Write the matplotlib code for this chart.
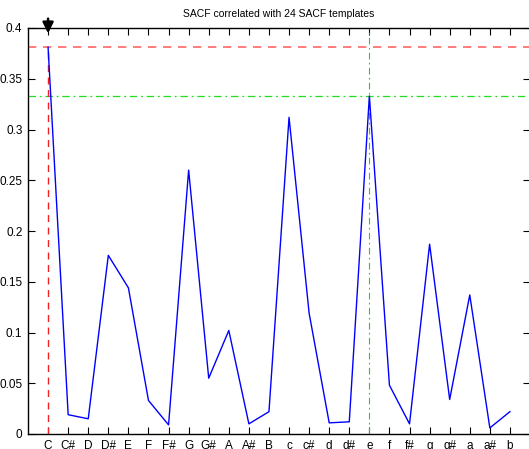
import matplotlib
matplotlib.use("Agg")
import matplotlib.pyplot as plt

plt.rcParams['font.family'] = ['Liberation Sans', 'DejaVu Sans']

keys = ['C', 'C#', 'D', 'D#', 'E', 'F', 'F#', 'G', 'G#', 'A', 'A#', 'B',
        'c', 'c#', 'd', 'd#', 'e', 'f', 'f#', 'g', 'g#', 'a', 'a#', 'b']
values = [0.381, 0.019, 0.015, 0.176, 0.144, 0.033, 0.009, 0.260, 0.055, 0.102, 0.010, 0.022,
          0.312, 0.119, 0.011, 0.012, 0.333, 0.048, 0.010, 0.187, 0.034, 0.137, 0.006, 0.022]
yticks = [0, 0.05, 0.1, 0.15, 0.2, 0.25, 0.3, 0.35, 0.4]
ytick_labels = ['0', '0.05', '0.1', '0.15', '0.2', '0.25', '0.3', '0.35', '0.4']
title = 'SACF correlated with 24 SACF templates'

W, H = 529, 449
fig = plt.figure(figsize=(W / 100, H / 100), dpi=100)
ax = fig.add_axes([28 / W, 1 - 434 / H, (530 - 28) / W, (434 - 28) / H])

x = list(range(1, len(keys) + 1))
ax.plot(x, values, color='#0000ff', lw=1.0, zorder=3)

best = max(range(len(values)), key=lambda i: values[i])
second = 16
ax.axhline(values[best], color='#ff6666', ls=(0, (5, 4)), lw=1.2, zorder=2)
ax.axhline(values[second], color='#22dd22', ls=(0, (6, 3, 1.5, 3)), lw=0.9, zorder=2)
ax.plot([x[best], x[best]], [0, values[best]], color='#ee2222', ls=(0, (5, 4)), lw=1.0, zorder=2)
ax.axvline(x[second], color='#22cc22', ls=(0, (6, 3, 1.5, 3)), lw=0.8, zorder=2)

ax.annotate('', xy=(x[best], 0.392), xytext=(x[best], 0.412),
            arrowprops=dict(arrowstyle='-|>', color='black', lw=1.8, mutation_scale=16),
            annotation_clip=False, zorder=5)

ax.set_xlim(0, 25)
ax.set_ylim(0, 0.4)
ax.set_xticks(x)
ax.set_xticklabels(keys)
ax.set_yticks(yticks)
ax.set_yticklabels(ytick_labels)
ax.tick_params(direction='in', top=True, right=True, length=5, width=0.8, labelsize=8.5, pad=4)
for s in ax.spines.values():
    s.set_linewidth(1.0)
ax.set_title(title, fontsize=7.5, pad=8)

fig.savefig('out.png', dpi=100)
